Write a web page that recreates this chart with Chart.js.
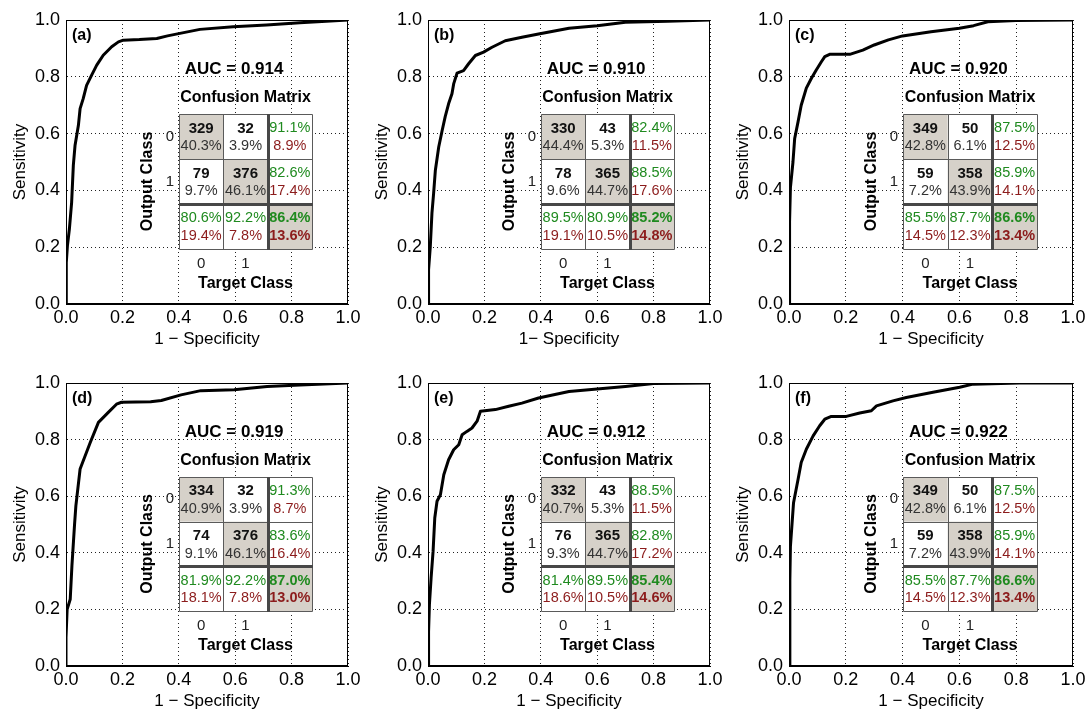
<!DOCTYPE html>
<html lang="en">
<head>
<meta charset="UTF-8">
<title>ROC curves and confusion matrices</title>
<script src="https://cdn.jsdelivr.net/npm/chart.js"></script>
<style>
  body { margin: 0; background: #fff; }
  #figure { position: relative; width: 1088px; height: 712px; overflow: hidden; }
  #figure canvas { position: absolute; }
</style>
</head>
<body>
<div id="figure"></div>
<script>
// ROC curves: 1 - specificity (x) and sensitivity (y)
const fprA = [0, 0, 0.002, 0.005, 0.012, 0.02, 0.026, 0.032, 0.044, 0.05, 0.061, 0.073, 0.091, 0.109, 0.132, 0.162, 0.186, 0.203, 0.26, 0.322, 0.36, 0.404, 0.475, 0.593, 0.711, 0.829, 0.923, 1];
const tprA = [0, 0.1, 0.146, 0.205, 0.264, 0.358, 0.488, 0.558, 0.629, 0.688, 0.723, 0.77, 0.806, 0.841, 0.876, 0.906, 0.923, 0.929, 0.931, 0.935, 0.944, 0.953, 0.967, 0.976, 0.982, 0.99, 0.996, 1];
const fprB = [0, 0.002, 0.008, 0.014, 0.02, 0.026, 0.038, 0.05, 0.061, 0.073, 0.085, 0.091, 0.103, 0.126, 0.144, 0.168, 0.197, 0.227, 0.274, 0.333, 0.392, 0.5, 0.6, 0.7, 0.85, 1];
const tprB = [0, 0.12, 0.2, 0.32, 0.39, 0.47, 0.553, 0.61, 0.66, 0.705, 0.74, 0.775, 0.813, 0.822, 0.846, 0.875, 0.887, 0.904, 0.927, 0.939, 0.951, 0.971, 0.98, 0.992, 0.996, 1];
const fprC = [0, 0.002, 0.005, 0.014, 0.02, 0.032, 0.043, 0.061, 0.079, 0.096, 0.114, 0.126, 0.143, 0.214, 0.26, 0.3, 0.35, 0.4, 0.5, 0.6, 0.65, 0.7, 0.8, 1];
const tprC = [0, 0.29, 0.41, 0.5, 0.583, 0.642, 0.7, 0.76, 0.795, 0.824, 0.853, 0.871, 0.879, 0.879, 0.894, 0.912, 0.93, 0.944, 0.959, 0.971, 0.98, 0.994, 0.998, 1];
const fprD = [0, 0, 0.004, 0.015, 0.021, 0.03, 0.035, 0.05, 0.068, 0.086, 0.115, 0.15, 0.179, 0.197, 0.3, 0.338, 0.408, 0.478, 0.596, 0.713, 0.83, 1];
const tprD = [0, 0.1, 0.2, 0.236, 0.354, 0.495, 0.566, 0.696, 0.743, 0.79, 0.861, 0.896, 0.925, 0.932, 0.934, 0.938, 0.958, 0.973, 0.976, 0.988, 0.993, 1];
const fprE = [0, 0.002, 0.005, 0.011, 0.018, 0.024, 0.032, 0.044, 0.056, 0.073, 0.091, 0.109, 0.121, 0.138, 0.156, 0.174, 0.186, 0.239, 0.286, 0.333, 0.392, 0.5, 0.6, 0.7, 0.8, 1];
const tprE = [0, 0.122, 0.217, 0.311, 0.405, 0.523, 0.582, 0.605, 0.676, 0.729, 0.764, 0.782, 0.817, 0.829, 0.841, 0.865, 0.9, 0.906, 0.918, 0.929, 0.947, 0.97, 0.979, 0.988, 0.998, 1];
const fprF = [0, 0.003, 0.005, 0.016, 0.032, 0.043, 0.061, 0.085, 0.108, 0.126, 0.149, 0.202, 0.249, 0.29, 0.308, 0.366, 0.413, 0.507, 0.601, 0.648, 0.812, 1];
const tprF = [0, 0.3, 0.423, 0.577, 0.66, 0.719, 0.766, 0.813, 0.849, 0.872, 0.882, 0.882, 0.894, 0.902, 0.919, 0.937, 0.949, 0.967, 0.985, 0.996, 1, 1];

const panelLabels = ['(a)', '(b)', '(c)', '(d)', '(e)', '(f)'];
const aucValues = ['0.914', '0.910', '0.920', '0.919', '0.912', '0.922'];
const xTitles = ['1 − Specificity', '1− Specificity', '1 − Specificity', '1 − Specificity', '1 − Specificity', '1 − Specificity'];
const tickValues = [0, 0.2, 0.4, 0.6, 0.8, 1.0];
const classLabels = ['0', '1'];

// confusion matrices, cells in order [out0/tgt0, out0/tgt1, out1/tgt0, out1/tgt1]
const cmCounts = [
  [329, 32, 79, 376], [330, 43, 78, 365], [349, 50, 59, 358],
  [334, 32, 74, 376], [332, 43, 76, 365], [349, 50, 59, 358]
];
const cmShares = [
  ['40.3%', '3.9%', '9.7%', '46.1%'], ['44.4%', '5.3%', '9.6%', '44.7%'], ['42.8%', '6.1%', '7.2%', '43.9%'],
  ['40.9%', '3.9%', '9.1%', '46.1%'], ['40.7%', '5.3%', '9.3%', '44.7%'], ['42.8%', '6.1%', '7.2%', '43.9%']
];
const rowCorrect = [['91.1%', '82.6%'], ['82.4%', '88.5%'], ['87.5%', '85.9%'], ['91.3%', '83.6%'], ['88.5%', '82.8%'], ['87.5%', '85.9%']];
const rowWrong = [['8.9%', '17.4%'], ['11.5%', '17.6%'], ['12.5%', '14.1%'], ['8.7%', '16.4%'], ['11.5%', '17.2%'], ['12.5%', '14.1%']];
const colCorrect = [['80.6%', '92.2%'], ['89.5%', '80.9%'], ['85.5%', '87.7%'], ['81.9%', '92.2%'], ['81.4%', '89.5%'], ['85.5%', '87.7%']];
const colWrong = [['19.4%', '7.8%'], ['19.1%', '10.5%'], ['14.5%', '12.3%'], ['18.1%', '7.8%'], ['18.6%', '10.5%'], ['14.5%', '12.3%']];
const allCorrect = ['86.4%', '85.2%', '86.6%', '87.0%', '85.4%', '86.6%'];
const allWrong = ['13.6%', '14.8%', '13.4%', '13.0%', '14.6%', '13.4%'];

const curves = [[fprA, tprA], [fprB, tprB], [fprC, tprC], [fprD, tprD], [fprE, tprE], [fprF, tprF]];

// plot-area placement on the page
const plotLeft = [66, 428, 789], plotRight = [348, 710, 1073];
const plotTop = [20, 383], plotBottom = [304, 666];

const FONT = "'Liberation Sans', Arial, Helvetica, sans-serif";
const GREEN = '#1f8a1f', RED = '#8c1c1c', CELL_GRAY = '#d6d1c9';
Chart.defaults.font.family = FONT;

function txt(ctx, s, px, py, font, color, align) {
  ctx.font = font + ' ' + FONT;
  ctx.fillStyle = color;
  ctx.textAlign = align || 'center';
  ctx.textBaseline = 'middle';
  ctx.fillText(s, px, py);
}

const insetPlugin = {
  id: 'inset',
  afterDraw(chart, args, opts) {
    const i = opts.index;
    const { ctx, chartArea: a, scales: { x, y } } = chart;
    ctx.save();
    // box around the axes
    ctx.strokeStyle = '#000';
    ctx.lineWidth = 1;
    ctx.strokeRect(Math.round(a.left) + 0.5, Math.round(a.top) + 0.5, Math.round(a.right - a.left) - 1, Math.round(a.bottom - a.top) - 1);

    txt(ctx, panelLabels[i], a.left + 6, a.top + 16, 'bold 16px', '#000', 'left');
    txt(ctx, 'AUC = ' + aucValues[i], x.getPixelForValue(0.596), y.getPixelForValue(0.827), 'bold 17px', '#000');

    // confusion matrix grid
    const x0 = Math.round(x.getPixelForValue(0.40)), x3 = Math.round(x.getPixelForValue(0.872));
    const y0 = Math.round(y.getPixelForValue(0.668)), y3 = Math.round(y.getPixelForValue(0.194));
    const cw = (x3 - x0) / 3, ch = (y3 - y0) / 3;
    const mid = (x0 + x3) / 2;
    txt(ctx, 'Confusion Matrix', mid, y.getPixelForValue(0.726), 'bold 16px', '#000');

    ctx.fillStyle = '#fff';
    ctx.fillRect(x0, y0, x3 - x0, y3 - y0);
    ctx.fillStyle = CELL_GRAY;
    for (let k = 0; k < 3; k++) ctx.fillRect(x0 + k * cw, y0 + k * ch, cw, ch);

    ctx.strokeStyle = '#5a5a5a';
    ctx.lineWidth = 1;
    ctx.beginPath();
    for (let k = 0; k <= 3; k++) {
      const px = Math.round(x0 + k * cw) + 0.5, py = Math.round(y0 + k * ch) + 0.5;
      ctx.moveTo(px, y0 + 0.5); ctx.lineTo(px, y3 + 0.5);
      ctx.moveTo(x0 + 0.5, py); ctx.lineTo(x3 + 0.5, py);
    }
    ctx.stroke();
    ctx.strokeStyle = '#474747';
    ctx.lineWidth = 3;
    ctx.beginPath();
    ctx.moveTo(Math.round(x0 + 2 * cw) + 0.5, y0); ctx.lineTo(Math.round(x0 + 2 * cw) + 0.5, y3 + 1);
    ctx.moveTo(x0, Math.round(y0 + 2 * ch) + 0.5); ctx.lineTo(x3 + 1, Math.round(y0 + 2 * ch) + 0.5);
    ctx.stroke();

    const cx = c => x0 + (c + 0.5) * cw;
    const upper = r => y0 + r * ch + 0.32 * ch;
    const lower = r => y0 + r * ch + 0.72 * ch;
    [[0, 0], [0, 1], [1, 0], [1, 1]].forEach(([r, c], k) => {
      txt(ctx, String(cmCounts[i][k]), cx(c), upper(r), 'bold 15px', '#111');
      txt(ctx, cmShares[i][k], cx(c), lower(r), '14.5px', '#333');
    });
    for (let r = 0; r < 2; r++) {
      txt(ctx, rowCorrect[i][r], cx(2), upper(r), '14.5px', GREEN);
      txt(ctx, rowWrong[i][r], cx(2), lower(r), '14.5px', RED);
      txt(ctx, colCorrect[i][r], cx(r), upper(2), '14.5px', GREEN);
      txt(ctx, colWrong[i][r], cx(r), lower(2), '14.5px', RED);
    }
    txt(ctx, allCorrect[i], cx(2), upper(2), 'bold 14.5px', GREEN);
    txt(ctx, allWrong[i], cx(2), lower(2), 'bold 14.5px', RED);

    // class labels
    for (let k = 0; k < 2; k++) {
      txt(ctx, classLabels[k], x0 - 9, y0 + (k + 0.5) * ch, '15px', '#222');
      txt(ctx, classLabels[k], cx(k), y.getPixelForValue(0.141), '15px', '#222');
    }
    txt(ctx, 'Target Class', mid, y.getPixelForValue(0.071), 'bold 16px', '#000');
    ctx.save();
    ctx.translate(x.getPixelForValue(0.291), (y0 + y3) / 2);
    ctx.rotate(-Math.PI / 2);
    txt(ctx, 'Output Class', 0, 0, 'bold 16px', '#000');
    ctx.restore();

    ctx.restore();
  }
};

const figure = document.getElementById('figure');
const setTicks = s => { s.ticks = tickValues.map(v => ({ value: v })); };

curves.forEach(([fpr, tpr], i) => {
  const col = i % 3, row = Math.floor(i / 3);
  const w = plotRight[col] - plotLeft[col] + 66 + 16;
  const h = plotBottom[row] - plotTop[row] + 20 + 50;
  const canvas = document.createElement('canvas');
  canvas.width = w;
  canvas.height = h;
  canvas.style.left = (plotLeft[col] - 66) + 'px';
  canvas.style.top = (plotTop[row] - 20) + 'px';
  canvas.style.width = w + 'px';
  canvas.style.height = h + 'px';
  figure.appendChild(canvas);

  const axisCommon = {
    type: 'linear',
    min: 0,
    max: 1,
    afterBuildTicks: setTicks,
    grid: { color: '#222', lineWidth: 1, drawTicks: false },
    border: { display: true, color: '#000', width: 1, dash: [1, 3] },
    title: { display: true, color: '#000', font: { size: 17 } }
  };

  new Chart(canvas, {
    type: 'scatter',
    data: {
      datasets: [{
        data: fpr.map((v, k) => ({ x: v, y: tpr[k] })),
        showLine: true,
        borderColor: '#000',
        borderWidth: 3,
        borderJoinStyle: 'round',
        pointRadius: 0,
        tension: 0
      }]
    },
    options: {
      responsive: false,
      animation: false,
      devicePixelRatio: 1,
      layout: { padding: { top: 20, right: 16, left: 0, bottom: 0 } },
      plugins: {
        legend: { display: false },
        tooltip: { enabled: false },
        inset: { index: i }
      },
      scales: {
        x: {
          ...axisCommon,
          position: 'bottom',
          afterFit: s => { s.height = 50; },
          ticks: { color: '#000', font: { size: 18 }, padding: 3, maxRotation: 0, callback: v => v.toFixed(1) },
          title: { ...axisCommon.title, text: xTitles[i], padding: { top: 0, bottom: 4 } }
        },
        y: {
          ...axisCommon,
          position: 'left',
          afterFit: s => { s.width = 66; },
          ticks: { color: '#000', font: { size: 18 }, padding: 6, callback: v => v.toFixed(1) },
          title: { ...axisCommon.title, text: 'Sensitivity', padding: { top: 10, bottom: 0 } }
        }
      }
    },
    plugins: [insetPlugin]
  });
});
</script>
</body>
</html>
